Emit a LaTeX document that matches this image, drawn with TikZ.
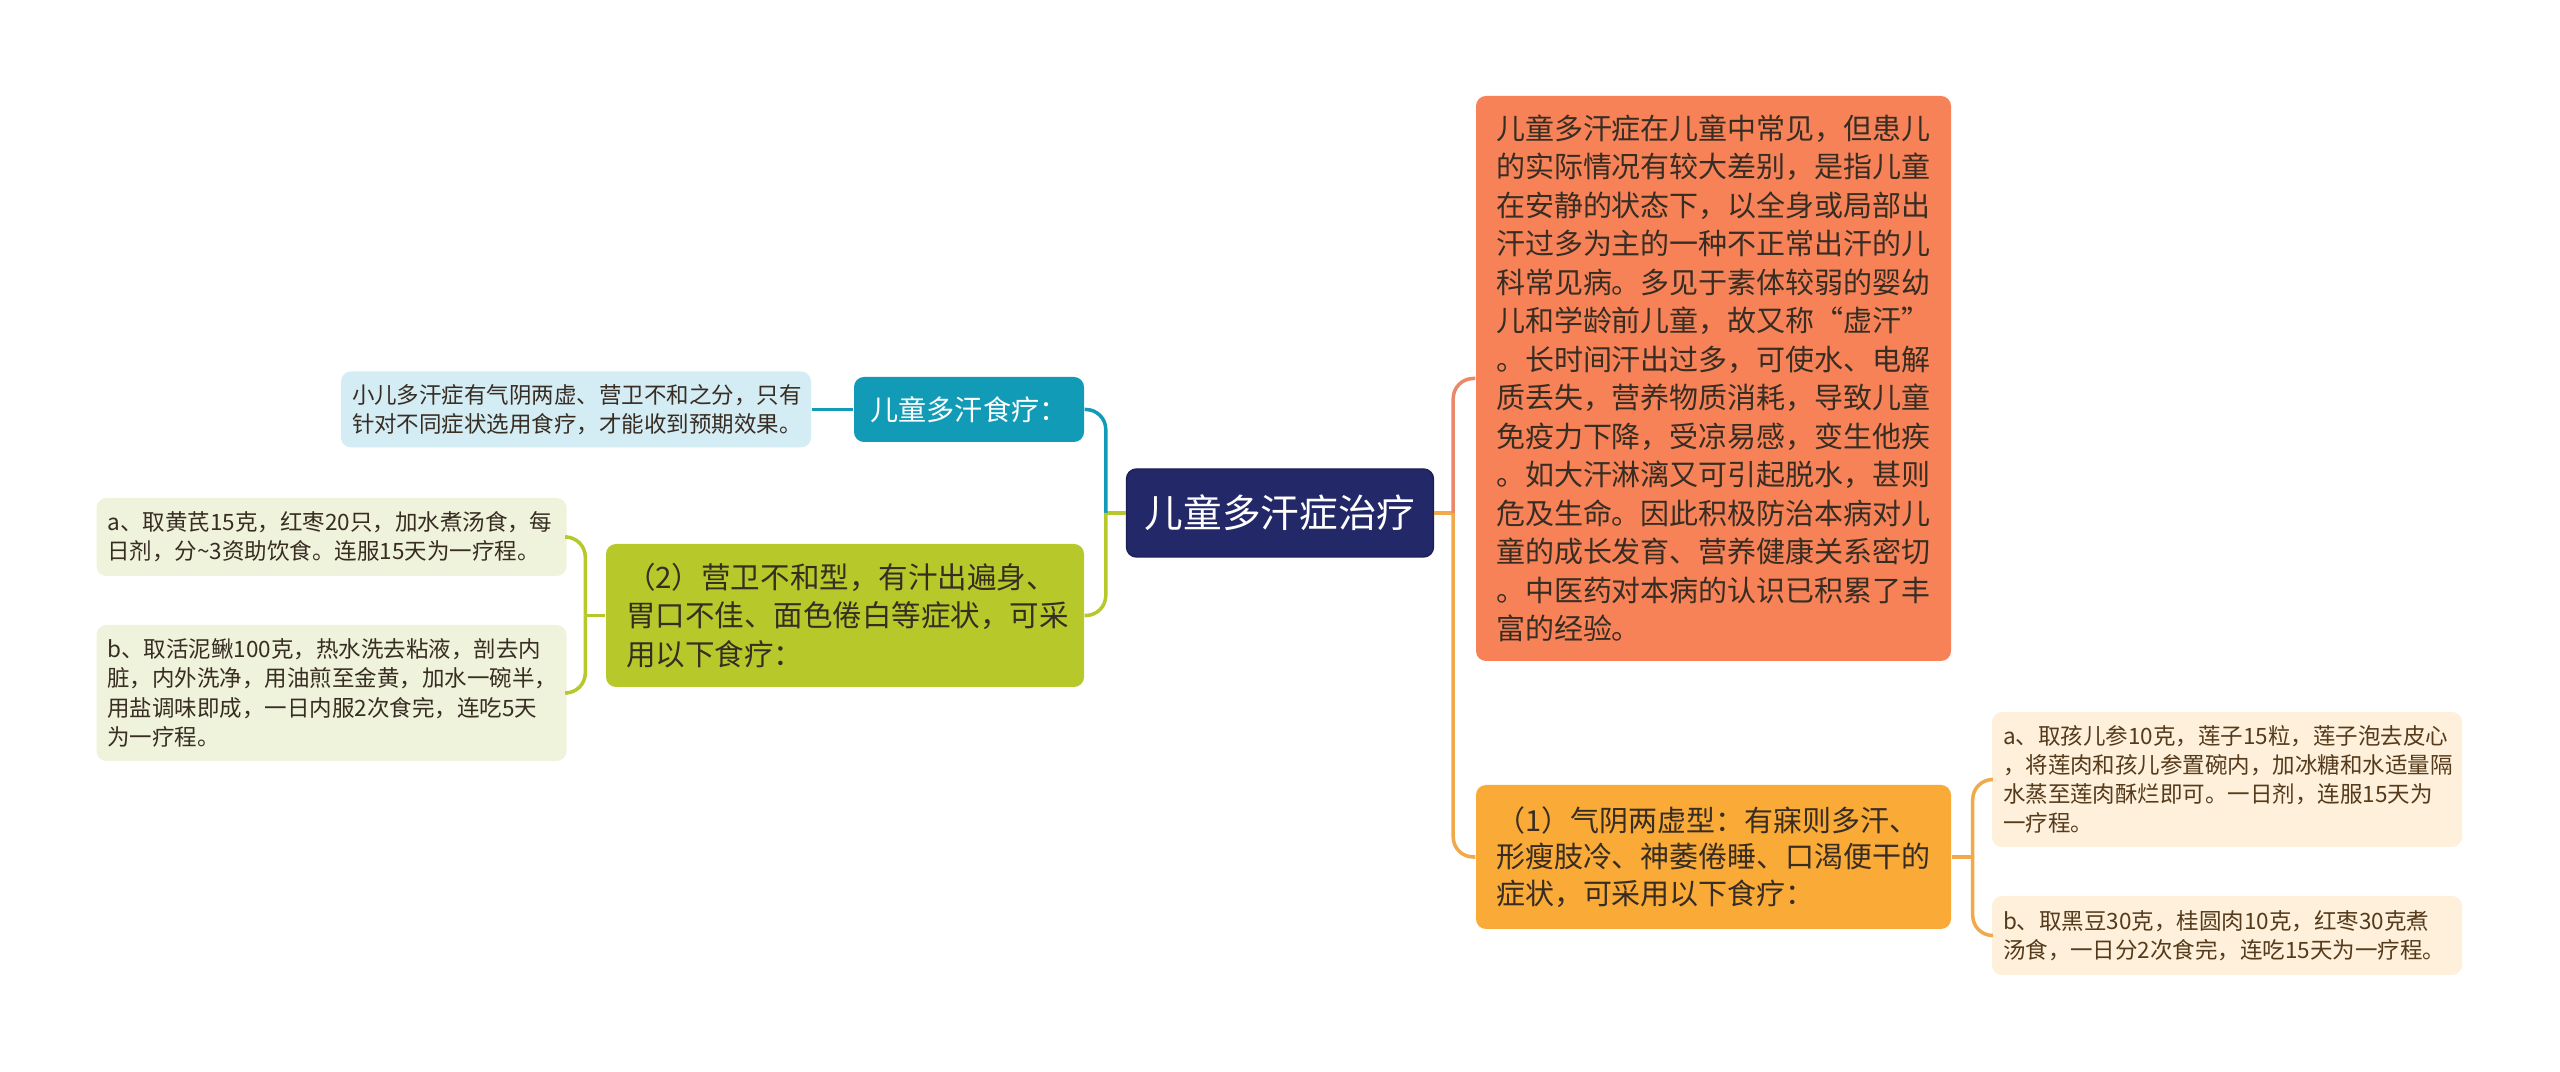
\documentclass[tikz,border=0pt]{standalone}
\usepackage{fontspec}
\newfontfamily\cjk{Noto Sans CJK SC}
\usetikzlibrary{calc}
\definecolor{rootC}{RGB}{35,40,105}
\definecolor{descC}{RGB}{247,130,88}
\definecolor{descL}{RGB}{234,137,105}
\definecolor{qiyinC}{RGB}{250,170,55}
\definecolor{qiyinL}{RGB}{240,170,75}
\definecolor{qtipC}{RGB}{254,240,218}
\definecolor{shiliaoC}{RGB}{18,155,183}
\definecolor{xiaoerC}{RGB}{212,236,244}
\definecolor{yingweiC}{RGB}{182,200,42}
\definecolor{ytipC}{RGB}{240,243,220}
\definecolor{textC}{RGB}{55,45,35}
\definecolor{qtextC}{RGB}{85,58,28}
\tikzstyle{box}=[rounded corners=0.1cm, inner ysep=0pt, align=left, text=textC]
\tikzstyle{rootbox}=[box, fill=rootC, draw=rootC!80!black, text=white, align=center, minimum width=3.07cm, minimum height=0.88cm, font=\cjk\fontsize{11}{13}\selectfont]
\tikzstyle{bigbox}=[box, inner xsep=0.2cm, font=\cjk\fontsize{8.25}{10.95}\selectfont]
\tikzstyle{tipbox}=[box, inner xsep=0.11cm, text width=4.48cm, font=\cjk\fontsize{6.4}{8.3}\selectfont]
\tikzstyle{link}=[line width=1pt, rounded corners=0.2cm]

\begin{document}
\begin{tikzpicture}
\useasboundingbox[fill=white] (0,0) rectangle (25.6,-10.72);
\node[rootbox] (root) at (12.80,-5.13) {儿童多汗症治疗};
\node[bigbox, fill=descC, text width=4.35cm, minimum height=5.65cm] (desc) at ($(root)+(4.335,1.345)$) {儿童多汗症在儿童中常见，但患儿\\的实际情况有较大差别，是指儿童\\在安静的状态下，以全身或局部出\\汗过多为主的一种不正常出汗的儿\\科常见病。多见于素体较弱的婴幼\\儿和学龄前儿童，故又称“虚汗”\\。长时间汗出过多，可使水、电解\\质丢失，营养物质消耗，导致儿童\\免疫力下降，受凉易感，变生他疾\\。如大汗淋漓又可引起脱水，甚则\\危及生命。因此积极防治本病对儿\\童的成长发育、营养健康关系密切\\。中医药对本病的认识已积累了丰\\富的经验。};
\node[bigbox, fill=qiyinC, text width=4.35cm, minimum height=1.44cm, font=\cjk\fontsize{8.25}{10.4}\selectfont] (qiyin) at ($(root)+(4.335,-3.44)$) {（1）气阴两虚型：有寐则多汗、\\形瘦肢冷、神萎倦睡、口渴便干的\\症状，可采用以下食疗：};
\node[tipbox, fill=qtipC, text=qtextC, minimum height=1.35cm] (qa) at ($(qiyin)+(5.135,0.775)$) {a、取孩儿参10克，莲子15粒，莲子泡去皮心\\，将莲肉和孩儿参置碗内，加冰糖和水适量隔\\水蒸至莲肉酥烂即可。一日剂，连服15天为\\一疗程。};
\node[tipbox, fill=qtipC, text=qtextC, minimum height=0.79cm] (qb) at ($(qiyin)+(5.135,-0.785)$) {b、取黑豆30克，桂圆肉10克，红枣30克煮\\汤食，一日分2次食完，连吃15天为一疗程。};
\node[box, fill=shiliaoC, text=white, align=center, minimum width=2.30cm, minimum height=0.65cm, font=\cjk\fontsize{8}{10}\selectfont] (shiliao) at ($(root)+(-3.11,1.035)$) {儿童多汗食疗：};
\node[tipbox, fill=xiaoerC, minimum height=0.76cm] (xiaoer) at ($(shiliao)+(-3.93,0)$) {小儿多汗症有气阴两虚、营卫不和之分，只有\\针对不同症状选用食疗，才能收到预期效果。};
\node[bigbox, fill=yingweiC, text width=4.38cm, minimum height=1.43cm, font=\cjk\fontsize{8.4}{10.9}\selectfont] (yingwei) at ($(root)+(-4.35,-1.025)$) {（2）营卫不和型，有汁出遍身、\\胃口不佳、面色倦白等症状，可采\\用以下食疗：};
\node[tipbox, fill=ytipC, minimum height=0.78cm] (ya) at ($(yingwei)+(-5.135,0.785)$) {a、取黄芪15克，红枣20只，加水煮汤食，每\\日剂，分\textasciitilde3资助饮食。连服15天为一疗程。};
\node[tipbox, fill=ytipC, minimum height=1.36cm] (yb) at ($(yingwei)+(-5.135,-0.775)$) {b、取活泥鳅100克，热水洗去粘液，剖去内\\脏，内外洗净，用油煎至金黄，加水一碗半，\\用盐调味即成，一日内服2次食完，连吃5天\\为一疗程。};
\coordinate (rR) at ($(root.east)+(0.19,0)$);
\coordinate (rL) at ($(root.west)+(-0.2,0)$);
\coordinate (qJ) at ($(qiyin.east)+(0.21,0)$);
\coordinate (yJ) at ($(yingwei.west)+(-0.2,0)$);
\draw[link, qiyinL] (root.east) -- (rR);
\draw[link, descL] (rR) |- (desc.west);
\draw[link, qiyinL] (rR) |- (qiyin.west);
\draw[link, qiyinL] (qiyin.east) -- (qJ);
\draw[link, qiyinL] (qJ) |- (qa.west);
\draw[link, qiyinL] (qJ) |- (qb.west);
\draw[link, yingweiC] (root.west) -- (rL);
\draw[link, shiliaoC] (rL) |- (shiliao.east);
\draw[link, yingweiC] (rL) |- (yingwei.east);
\draw[link, shiliaoC] (shiliao.west) -- (xiaoer.east);
\draw[link, yingweiC] (yingwei.west) -- (yJ);
\draw[link, yingweiC] (yJ) |- (ya.east);
\draw[link, yingweiC] (yJ) |- (yb.east);
\end{tikzpicture}
\end{document}
